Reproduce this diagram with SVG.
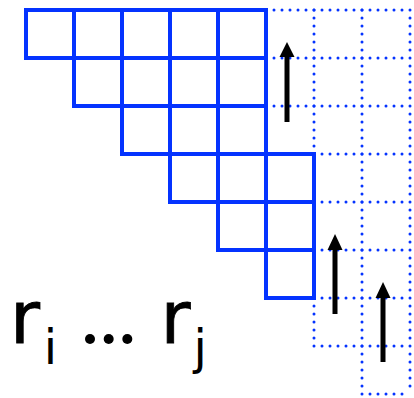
<svg xmlns="http://www.w3.org/2000/svg" width="414" height="398" viewBox="0 0 414 398">
<style>
.solid{fill:none;stroke:#0433ff;stroke-width:4;stroke-linecap:square}
.dot{fill:none;stroke:#0433ff;stroke-width:3;stroke-linecap:round;stroke-dasharray:0 8}
.shaft{stroke:#000;stroke-width:5}
.head{fill:#000}
.t{font-family:"DejaVu Sans",Arial,sans-serif;fill:#000}
.big{stroke:#000;stroke-width:0.8}
</style>
<rect width="414" height="398" fill="#fff"/>
<g id="dotted-grid">
<path class="dot" d="M266 10H410M266 58H410M266 106H410M314 154H410M314 202H410M314 250H410M314 298H410M314 346H410M362 394H410"/>
<path class="dot" d="M314 10V154M314 298V346M362 10V394M410 10V394"/>
</g>
<g id="solid-grid">
<path class="solid" d="M26 10H266M26 58H266M74 106H266M122 154H314M170 202H314M218 250H314M266 298H314"/>
<path class="solid" d="M26 10V58M74 10V106M122 10V154M170 10V202M218 10V250M266 10V298M314 154V298"/>
</g>
<g id="arrows">
<line class="shaft" x1="287" y1="122" x2="287" y2="55"/>
<polygon class="head" points="287,42 279.5,57 294.5,57"/>
<line class="shaft" x1="335" y1="314" x2="335" y2="248"/>
<polygon class="head" points="335,234 327.5,250 342.5,250"/>
<line class="shaft" x1="383" y1="362" x2="383" y2="296"/>
<polygon class="head" points="383,282 375.5,298 390.5,298"/>
</g>
<g id="label">
<text class="t big" x="10" y="342.8" font-size="73">r</text>
<text class="t" x="43.7" y="364" font-size="48">i</text>
<circle cx="90" cy="339" r="5"/>
<circle cx="108.7" cy="339" r="5"/>
<circle cx="127.3" cy="339" r="5"/>
<text class="t big" x="160.5" y="342.8" font-size="73">r</text>
<text class="t" x="193.5" y="364" font-size="48">j</text>
</g>
</svg>
